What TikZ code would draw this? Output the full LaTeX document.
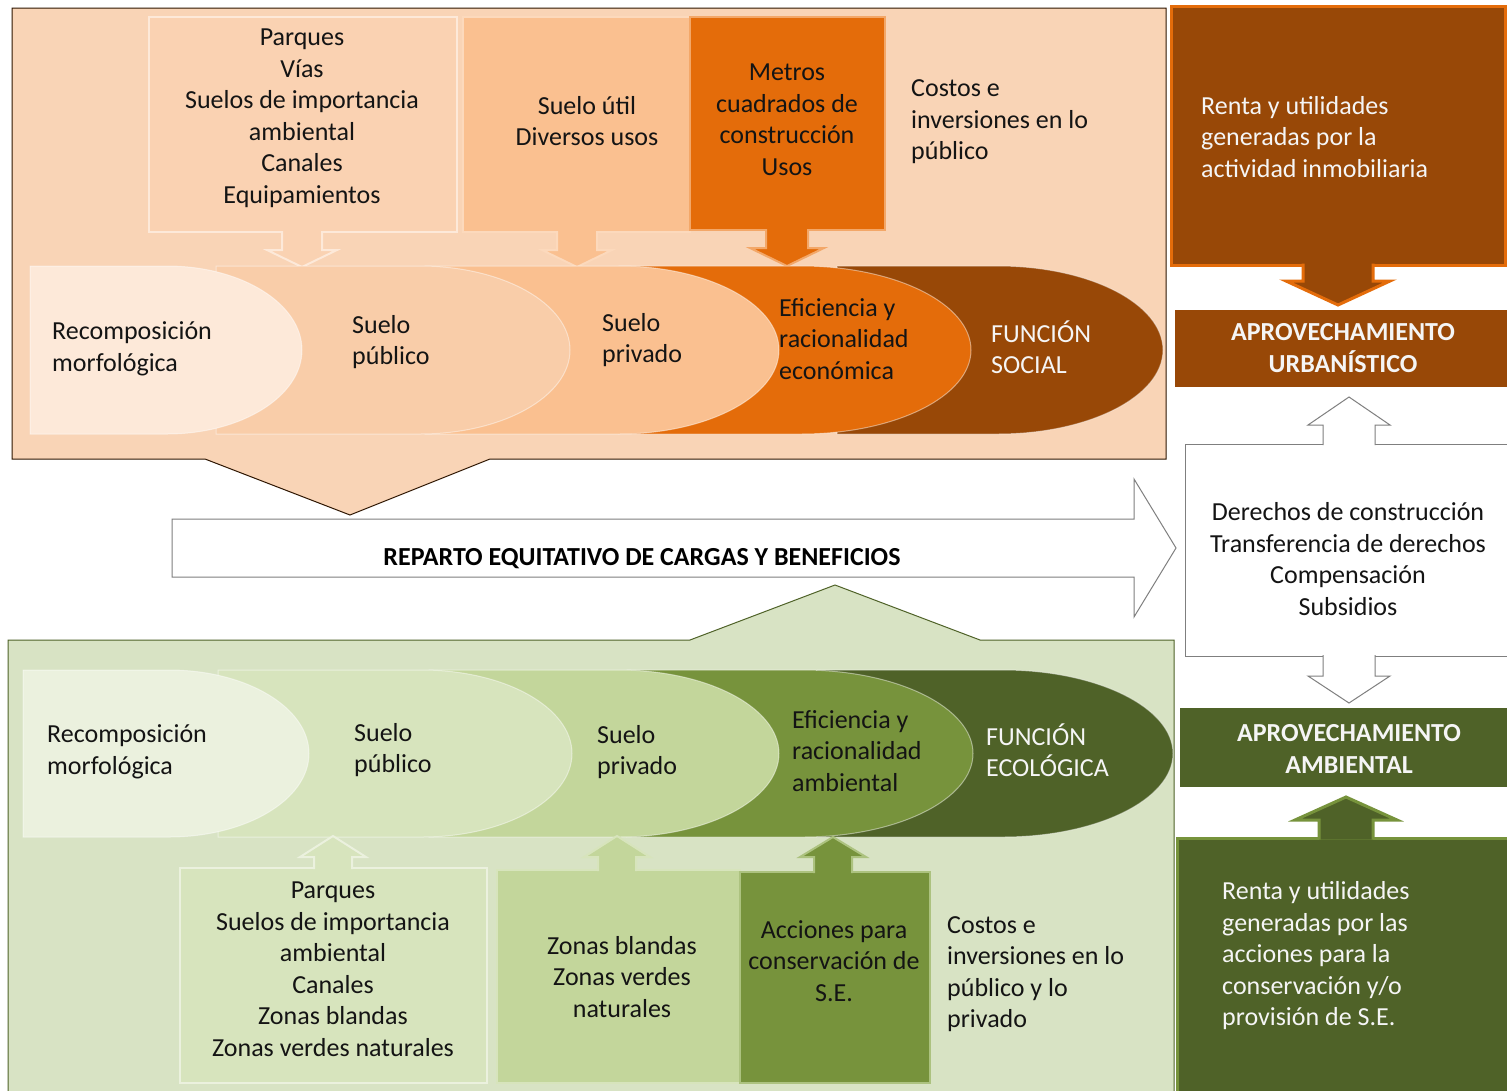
\documentclass[tikz,border=0pt]{standalone}
\usepackage{fontspec}
\setmainfont{Carlito}
\definecolor{orA}{HTML}{FDE9D9}
\definecolor{orB}{HTML}{F9CDA9}
\definecolor{orPanel}{HTML}{F9D4B6}
\definecolor{orBox}{HTML}{FAD2B2}
\definecolor{orC}{HTML}{FAC090}
\definecolor{orD}{HTML}{E46C0A}
\definecolor{orE}{HTML}{984807}
\definecolor{grA}{HTML}{EBF1DE}
\definecolor{grB}{HTML}{D7E4BD}
\definecolor{grPanel}{HTML}{D8E3C4}
\definecolor{grC}{HTML}{C3D69B}
\definecolor{grD}{HTML}{77933C}
\definecolor{grE}{HTML}{4F6228}
\definecolor{lineGrey}{HTML}{7F7F7F}
\newcommand\chevshape[7]{%
  \path[#1] (#2,#5) -- ({#3-#4},#5) arc[start angle=-90,end angle=90,x radius=#4,y radius=#7] -- (#2,#6) -- cycle;}
\newcommand\blockarr[7]{%
  \path[#1] ({#2-#6},#3) -- ({#2-#6},#4) -- ({#2-#7},#4) -- (#2,#5) -- ({#2+#7},#4) -- ({#2+#6},#4) -- ({#2+#6},#3);}
\begin{document}
\begin{tikzpicture}[x=1pt,y=-1pt,
  txt/.style={font=\fontsize{26}{31.5}\selectfont, inner sep=0pt, text=black!92},
  wtxt/.style={txt, text=white!96!black},
  btxt/.style={font=\bfseries\fontsize{26}{31.5}\selectfont, inner sep=0pt, text=white!96!black},
  chevline/.style={draw=white, draw opacity=0.45, line width=1pt},
  lightbox/.style={line width=2pt}]
\useasboundingbox (0,0) rectangle (1507,1090);
\fill[white] (0,0) rectangle (1507,1090);

% ---------- top panel ----------
\path[fill=orPanel, draw=black!70!orE, line width=1pt]
  (12,8) -- (1166,8) -- (1166,459) -- (490,459) -- (350,515) -- (205,459) -- (12,459) -- cycle;

% boxes and arrows
\path[fill=orBox, draw=orA, lightbox] (149,17) rectangle (457,232);
\blockarr{fill=orBox, draw=orA, lightbox, line join=miter}{302}{231}{250}{267}{20}{35}
\path[fill=orC, draw=orA!60!orC, lightbox] (463,17) rectangle (690,232);
\blockarr{fill=orC, draw=orA!60!orC, lightbox, line join=miter}{577}{231}{250}{267}{20}{35}
\path[fill=orD, draw=orC!70!orD, lightbox] (690,17) rectangle (885,230);
\blockarr{fill=orD, draw=orC!70!orD, lightbox, line join=miter}{787}{229}{248}{266}{21}{37}

\node[txt, align=center] (parques1) at (302,118) {Parques\\Vías\\Suelos de importancia\\ambiental\\Canales\\Equipamientos};
\node[txt, align=center] (sueloutil) at (587,121) {Suelo útil\\Diversos usos};
\node[txt, align=center] (metros) at (787,120) {Metros\\cuadrados de\\construcción\\Usos};
\node[txt, align=left, anchor=west] (costos1) at (911,122) {Costos e\\inversiones en lo\\público};

% chevrons top
\chevshape{fill=orE, chevline}{837}{1163}{165}{266}{434}{84}
\chevshape{fill=orD, chevline}{619}{971}{170}{266}{434}{84}
\chevshape{fill=orC, chevline}{425}{779}{160}{266}{434}{84}
\chevshape{fill=orB, chevline}{216}{570}{150}{266}{434}{84}
\chevshape{fill=orA, chevline}{30}{302}{135}{266}{434}{84}

\node[txt, align=left, anchor=west] (recomp1) at (52,349) {Recomposición\\morfológica};
\node[txt, align=left, anchor=west] (suelopub1) at (352,342) {Suelo\\público};
\node[txt, align=left, anchor=west] (sueloprv1) at (602,340) {Suelo\\privado};
\node[txt, align=left, anchor=west] (efic1) at (779,339) {Eficiencia y\\racionalidad\\económica};
\node[wtxt, align=left, anchor=west] (funcion1) at (991,347) {FUNCIÓN\\SOCIAL};

% ---------- bottom panel ----------
\path[fill=grPanel, draw=grE, line width=1pt]
  (8,1092) -- (8,640) -- (690,640) -- (835,585) -- (980,640) -- (1174,640) -- (1174,1092);

% chevrons bottom
\chevshape{fill=grE, chevline}{817}{1173}{170}{670}{837}{83.5}
\chevshape{fill=grD, chevline}{627}{973}{170}{670}{837}{83.5}
\chevshape{fill=grC, chevline}{429}{779}{160}{670}{837}{83.5}
\chevshape{fill=grB, chevline}{218}{572}{150}{670}{837}{83.5}
\chevshape{fill=grA, chevline}{23}{309}{140}{670}{837}{83.5}

\node[txt, align=left, anchor=west] (recomp2) at (47,752) {Recomposición\\morfológica};
\node[txt, align=left, anchor=west] (suelopub2) at (354,750) {Suelo\\público};
\node[txt, align=left, anchor=west] (sueloprv2) at (597,752) {Suelo\\privado};
\node[txt, align=left, anchor=west] (efic2) at (792,751) {Eficiencia y\\racionalidad\\ambiental};
\node[wtxt, align=left, anchor=west] (funcion2) at (986,750) {FUNCIÓN\\ECOLÓGICA};

% boxes bottom
\path[fill=grB, draw=grA, lightbox] (180,868) rectangle (487,1083);
\blockarr{fill=grB, draw=grA, lightbox, line join=miter}{333}{869}{857}{836}{19}{33}
\path[fill=grC, draw=grA!50!grC, lightbox] (497,870) rectangle (740,1083);
\blockarr{fill=grC, draw=grA!50!grC, lightbox, line join=miter}{617}{871}{857}{836}{19}{33}
\path[fill=grD, draw=grC!70!grD, lightbox] (740,872) rectangle (930,1083);
\blockarr{fill=grD, draw=grC!70!grD, lightbox, line join=miter}{833}{873}{857}{837}{19}{33}

\node[txt, align=center] (parques2) at (333,969) {Parques\\Suelos de importancia\\ambiental\\Canales\\Zonas blandas\\Zonas verdes naturales};
\node[txt, align=center] (zonas) at (622,977) {Zonas blandas\\Zonas verdes\\naturales};
\node[txt, align=center] (acciones) at (834,961) {Acciones para\\conservación de\\S.E.};
\node[txt, align=left, anchor=west] (costos2) at (947,974) {Costos e\\inversiones en lo\\público y lo\\privado};

% ---------- big arrow ----------
\path[fill=white, draw=lineGrey, line width=1pt]
  (172,519) -- (1134,519) -- (1134,479) -- (1176,548) -- (1134,617) -- (1134,577) -- (172,577) -- cycle;
\node[font=\bfseries\fontsize{26}{30}\selectfont, inner sep=0pt] (reparto) at (642,559) {REPARTO EQUITATIVO DE CARGAS Y BENEFICIOS};

% ---------- right column ----------
\path[fill=orE, draw=orD, line width=3pt] (1171,6) rectangle (1505,265);
\blockarr{fill=orE, draw=orD, line width=3pt, line join=miter}{1338}{263.5}{281}{305}{35}{52}
\node[wtxt, align=left, anchor=west] (renta1) at (1201,137) {Renta y utilidades\\generadas por la\\actividad inmobiliaria};

\fill[orE] (1175,310) rectangle (1507,387);
\node[btxt, align=center] (aprovU) at (1343,348) {APROVECHAMIENTO\\URBANÍSTICO};

\path[fill=white, draw=lineGrey, line width=1pt] (1185,444) rectangle (1508,656);
\blockarr{fill=white, draw=lineGrey, line width=1pt, line join=miter}{1349}{445}{425}{397}{26}{41}
\blockarr{fill=white, draw=lineGrey, line width=1pt, line join=miter}{1349}{655}{676}{703}{26}{41}
\node[txt, align=center] (derechos) at (1348,559) {Derechos de construcción\\Transferencia de derechos\\Compensación\\Subsidios};

\fill[grE] (1180,708) rectangle (1507,787);
\node[btxt, align=center] (aprovA) at (1349,749) {APROVECHAMIENTO\\AMBIENTAL};

\path[fill=grE, draw=grD, line width=3pt] (1177,838) rectangle (1509,1093);
\blockarr{fill=grE, draw=grD, line width=3pt, line join=miter}{1346}{839.5}{820}{797}{27}{51}
\node[wtxt, align=left, anchor=west] (renta2) at (1222,956) {Renta y utilidades\\generadas por las\\acciones para la\\conservación y/o\\provisión de S.E.};
\end{tikzpicture}
\end{document}
